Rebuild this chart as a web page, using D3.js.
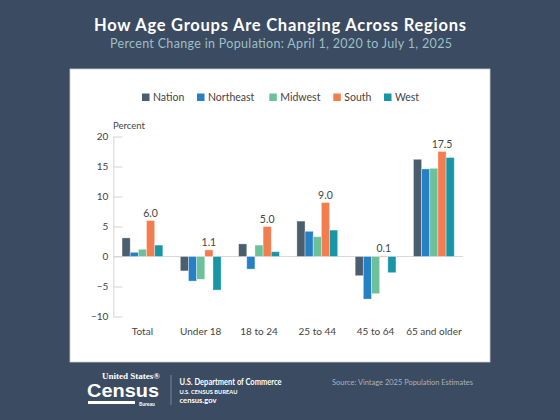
<!DOCTYPE html>
<html>
<head>
<meta charset="utf-8">
<script src="https://cdn.jsdelivr.net/npm/d3@7"></script>
<style>
  body { margin: 0; background: #3b4b61; }
  svg { display: block; font-family: "Lato", "Open Sans", sans-serif; }
</style>
</head>
<body>
<div id="chart"></div>
<script>
const categories = ["Total", "Under 18", "18 to 24", "25 to 44", "45 to 64", "65 and older"];
const regions = ["Nation", "Northeast", "Midwest", "South", "West"];
const nation    = [3.1, -2.4,  2.1, 5.9, -3.2, 16.2];
const northeast = [0.7, -4.1, -2.1, 4.2, -7.1, 14.6];
const midwest   = [1.2, -3.8,  1.9, 3.3, -6.2, 14.7];
const south     = [6.0,  1.1,  5.0, 9.0,  0.1, 17.5];
const west      = [1.9, -5.6,  0.8, 4.4, -2.7, 16.5];
const yTicks = [20, 15, 10, 5, 0, -5, -10];

const seriesValues = [nation, northeast, midwest, south, west];
const colors = ["#4a5e6d", "#2580c5", "#6cc19b", "#f47d50", "#1996a5"];

const width = 560, height = 420;

const svg = d3.select("#chart")
  .append("svg")
  .attr("width", width)
  .attr("height", height);

svg.append("rect")
  .attr("width", width)
  .attr("height", height)
  .attr("fill", "#3b4b61");

// title
svg.append("text")
  .attr("x", 280).attr("y", 31)
  .attr("text-anchor", "middle")
  .attr("fill", "#fff")
  .attr("font-size", 16.5)
  .attr("font-weight", "bold")
  .attr("textLength", 372)
  .attr("lengthAdjust", "spacing")
  .text("How Age Groups Are Changing Across Regions");

svg.append("text")
  .attr("x", 281).attr("y", 48)
  .attr("text-anchor", "middle")
  .attr("fill", "#9dbfc6")
  .attr("font-size", 12.5)
  .attr("textLength", 342)
  .attr("lengthAdjust", "spacing")
  .text("Percent Change in Population: April 1, 2020 to July 1, 2025");

// white panel
svg.append("rect")
  .attr("x", 70).attr("y", 69)
  .attr("width", 420).attr("height", 293)
  .attr("fill", "#fff")
  .attr("stroke", "#c9ced4")
  .attr("stroke-width", 0.8);

// data rows
const data = categories.map((c, i) => ({
  category: c,
  values: regions.map((r, j) => ({ region: r, value: seriesValues[j][i] }))
}));

const x0 = d3.scaleBand()
  .domain(categories)
  .range([113.3, 463])
  .paddingInner(0.3)
  .paddingOuter(0.15);

const x1 = d3.scaleBand()
  .domain(regions)
  .range([0, x0.bandwidth()]);

const y = d3.scaleLinear()
  .domain([-10, 20])
  .range([316.5, 136.5]);

const color = d3.scaleOrdinal().domain(regions).range(colors);

// y axis
const yAxis = svg.append("g")
  .attr("transform", "translate(113.3,0)")
  .call(d3.axisLeft(y).tickValues(yTicks).tickSize(-9).tickSizeOuter(0).tickPadding(5));

yAxis.select(".domain").attr("stroke", "#d4d4d4");
yAxis.selectAll(".tick line").attr("stroke", "#d4d4d4");
yAxis.selectAll(".tick text")
  .attr("fill", "#444")
  .attr("font-size", 10)
  .attr("font-family", "Lato, sans-serif");

svg.append("text")
  .attr("x", 113).attr("y", 129)
  .attr("fill", "#444")
  .attr("font-size", 9.5)
  .text("Percent");

// zero line
svg.append("line")
  .attr("x1", 113.3).attr("x2", 463)
  .attr("y1", y(0)).attr("y2", y(0))
  .attr("stroke", "#d9d9d9");

// bars
const group = svg.selectAll(".group")
  .data(data)
  .join("g")
  .attr("transform", d => `translate(${x0(d.category)},0)`);

group.selectAll("rect")
  .data(d => d.values)
  .join("rect")
  .attr("x", d => x1(d.region))
  .attr("width", x1.bandwidth())
  .attr("y", d => y(Math.max(0, d.value)))
  .attr("height", d => Math.abs(y(d.value) - y(0)))
  .attr("fill", d => color(d.region))
  .attr("stroke", "#fff")
  .attr("stroke-opacity", 0.45)
  .attr("stroke-width", 0.8);

// south value labels
group.append("text")
  .attr("x", d => x1("South") + x1.bandwidth() / 2)
  .attr("y", d => y(d.values[3].value) - 4)
  .attr("text-anchor", "middle")
  .attr("fill", "#444")
  .attr("font-size", 10.5)
  .text(d => d3.format(".1f")(d.values[3].value));

// category labels
svg.selectAll(".cat")
  .data(categories)
  .join("text")
  .attr("x", d => x0(d) + x0.bandwidth() / 2)
  .attr("y", 335)
  .attr("text-anchor", "middle")
  .attr("fill", "#444")
  .attr("font-size", 10)
  .text(d => d);

// legend
const legendX = [142, 197, 269.3, 333.3, 384];
const legend = svg.selectAll(".legend")
  .data(regions)
  .join("g")
  .attr("transform", (d, i) => `translate(${legendX[i]},93.5)`);

legend.append("rect")
  .attr("width", 7.5).attr("height", 7.5)
  .attr("fill", d => color(d));

legend.append("text")
  .attr("x", 11).attr("y", 7.5)
  .attr("fill", "#444")
  .attr("font-size", 10.5)
  .text(d => d);

// footer: logo
const logo = svg.append("g").attr("fill", "#fff");
logo.append("text")
  .attr("x", 102).attr("y", 379)
  .attr("font-family", "Liberation Serif, serif")
  .attr("font-weight", "bold")
  .attr("font-size", 8.5)
  .attr("textLength", 58)
  .attr("lengthAdjust", "spacingAndGlyphs")
  .text("United States\u00ae");
logo.append("text")
  .attr("x", 87).attr("y", 397)
  .attr("font-family", "Liberation Sans Narrow, Liberation Sans, sans-serif")
  .attr("font-weight", "bold")
  .attr("font-size", 19)
  .attr("textLength", 72)
  .attr("lengthAdjust", "spacingAndGlyphs")
  .text("Census");
logo.append("rect")
  .attr("x", 88).attr("y", 401)
  .attr("width", 47).attr("height", 3);
logo.append("text")
  .attr("x", 139).attr("y", 406)
  .attr("font-size", 5)
  .attr("font-weight", "bold")
  .text("Bureau");

svg.append("line")
  .attr("x1", 171).attr("x2", 171)
  .attr("y1", 375).attr("y2", 405)
  .attr("stroke", "#8796a8")
  .attr("stroke-width", 0.8);

const dept = svg.append("g").attr("fill", "#fff").attr("font-weight", "bold");
dept.append("text").attr("x", 179.5).attr("y", 385).attr("font-size", 8.5)
  .attr("textLength", 102).attr("lengthAdjust", "spacingAndGlyphs")
  .text("U.S. Department of Commerce");
dept.append("text").attr("x", 179.5).attr("y", 394).attr("font-size", 5.8)
  .attr("textLength", 58).attr("lengthAdjust", "spacingAndGlyphs")
  .text("U.S. CENSUS BUREAU");
dept.append("text").attr("x", 179.5).attr("y", 403).attr("font-size", 7)
  .attr("textLength", 37).attr("lengthAdjust", "spacingAndGlyphs")
  .text("census.gov");

svg.append("text")
  .attr("x", 332).attr("y", 385)
  .attr("fill", "#a7b2bf")
  .attr("font-size", 7.8)
  .attr("textLength", 141)
  .attr("lengthAdjust", "spacingAndGlyphs")
  .text("Source: Vintage 2025 Population Estimates");
</script>
</body>
</html>
